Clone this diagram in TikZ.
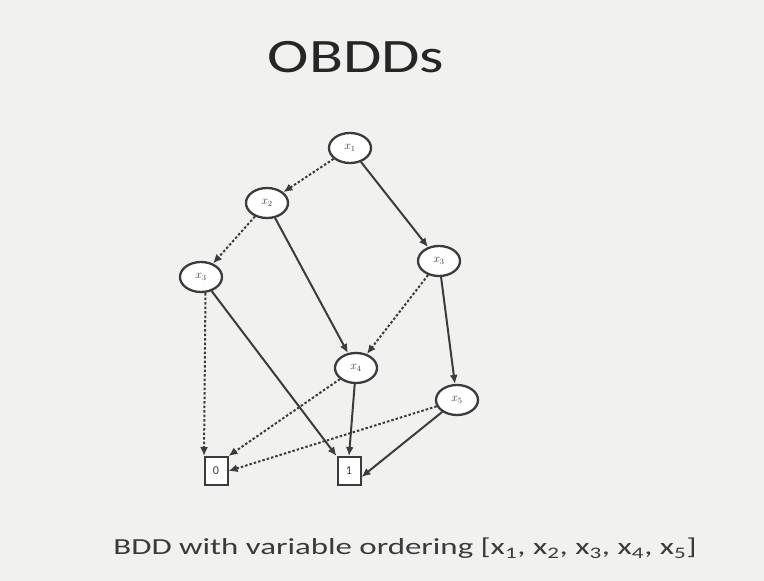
\documentclass[tikz,border=0pt]{standalone}
\usepackage{fontspec}
\setmainfont{Carlito}
\usetikzlibrary{arrows.meta,shapes.geometric}
\definecolor{bg}{HTML}{F1F1F0}
\definecolor{ink}{HTML}{3C3C3C}
\definecolor{txt}{HTML}{3A3A3A}
\definecolor{head}{HTML}{262626}
\tikzset{
  var/.style={draw=ink, line width=2.3pt, ellipse, minimum width=42pt, minimum height=30pt, inner sep=0pt, fill=white, font=\fontsize{12}{12}\selectfont, text=txt},
  term/.style={draw=ink, line width=2pt, rectangle, minimum width=23pt, minimum height=28pt, inner sep=0pt, fill=white, font=\fontsize{12}{12}\selectfont, text=txt},
  hi/.style={draw=ink, line width=2pt, -{Latex[length=9pt,width=8pt]}},
  lo/.style={draw=ink, line width=2pt, dash pattern=on 2.5pt off 2pt, -{Latex[length=9pt,width=8pt]}},
}
\begin{document}
\begin{tikzpicture}[x=1pt,y=-1pt]
  \fill[bg] (0,0) rectangle (764,581);
  \useasboundingbox (0,0) rectangle (764,581);
  \node[font=\fontsize{48}{48}\selectfont, text=head, xscale=1.3] (title) at (356,57) {OBDDs};

  % decision nodes
  \node[var] (a) at (350,148) {$x_1$};
  \node[var] (b) at (267,203) {$x_2$};
  \node[var] (c) at (201,277) {$x_3$};
  \node[var] (d) at (439,261) {$x_3$};
  \node[var] (e) at (356,368) {$x_4$};
  \node[var] (f) at (457,400) {$x_5$};
  % terminals
  \node[term] (z) at (216,471) {0};
  \node[term] (o) at (349,471) {1};

  % low (0) edges
  \draw[lo] (a) -- (b);
  \draw[lo] (b) -- (c);
  \draw[lo] (d) -- (e);
  \draw[lo] (c.south -| z.north west) ++(2pt,0) -- ([xshift=-12pt]z.north);
  \draw[lo] (e) -- (z.north east);
  \draw[lo] (f) -- (z.east);
  % high (1) edges
  \draw[hi] (a) -- (d);
  \draw[hi] (b) -- (e);
  \draw[hi] (c) -- (o.north west);
  \draw[hi] (e) -- (o.north);
  \draw[hi] (d) -- (f);
  \draw[hi] (f) -- ([yshift=-6pt]o.east);

  \node[font=\fontsize{23}{23}\selectfont, text=txt, xscale=1.43] (cap) at (405,548)
    {BDD with variable ordering [x\textsubscript{1}, x\textsubscript{2}, x\textsubscript{3}, x\textsubscript{4}, x\textsubscript{5}]};
\end{tikzpicture}
\end{document}
